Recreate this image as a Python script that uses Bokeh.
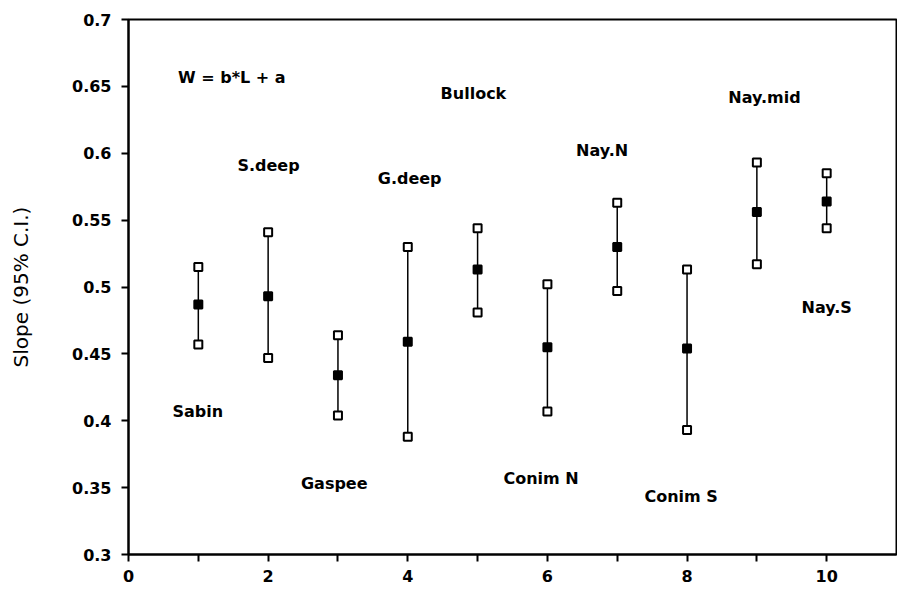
from bokeh.plotting import figure
from bokeh.models import ColumnDataSource, FixedTicker, Range1d
from bokeh.core.properties import value
from bokeh.embed import file_html
from bokeh.resources import INLINE

# ---- data ----
site_index = [1, 2, 3, 4, 5, 6, 7, 8, 9, 10]
slope_upper = [0.515, 0.541, 0.464, 0.530, 0.544, 0.502, 0.563, 0.513, 0.593, 0.585]
slope_mid = [0.487, 0.493, 0.434, 0.459, 0.513, 0.455, 0.530, 0.454, 0.556, 0.564]
slope_lower = [0.457, 0.447, 0.404, 0.388, 0.481, 0.407, 0.497, 0.393, 0.517, 0.544]

label_text = ["W = b*L + a", "S.deep", "G.deep", "Bullock", "Nay.N", "Nay.mid",
              "Nay.S", "Sabin", "Gaspee", "Conim N", "Conim S"]
label_x = [0.71, 1.56, 3.57, 4.47, 6.41, 8.59, 9.64, 0.63, 2.47, 5.37, 7.39]
label_y = [0.657, 0.591, 0.581, 0.645, 0.602, 0.642, 0.485, 0.407, 0.353, 0.357, 0.343]

y_ticks = [0.3, 0.35, 0.4, 0.45, 0.5, 0.55, 0.6, 0.65, 0.7]
x_major_ticks = [0, 2, 4, 6, 8, 10]
x_minor_ticks = [1, 3, 5, 7, 9]

FONT = "DejaVu Sans"

p = figure(width=897, height=590, output_backend="svg", toolbar_location=None,
           x_range=Range1d(0, 11), y_range=Range1d(0.3, 0.7),
           min_border_left=128, min_border_right=1, min_border_top=19,
           min_border_bottom=36)

p.grid.visible = False
p.background_fill_color = "white"
p.border_fill_color = "white"
p.outline_line_color = "black"
p.outline_line_width = 2

src = ColumnDataSource(dict(x=site_index, hi=slope_upper, mid=slope_mid, lo=slope_lower))

p.segment(x0="x", y0="lo", x1="x", y1="hi", source=src, line_color="black", line_width=1.5)
p.scatter(x="x", y="hi", source=src, marker="square", size=8, fill_color="white",
          line_color="black", line_width=2)
p.scatter(x="x", y="lo", source=src, marker="square", size=8, fill_color="white",
          line_color="black", line_width=2)
p.scatter(x="x", y="mid", source=src, marker="square", size=8, fill_color="black",
          line_color="black", line_width=2)

lsrc = ColumnDataSource(dict(x=label_x, y=label_y, t=label_text))
p.text(x="x", y="y", text="t", source=lsrc, text_font=value(FONT),
       text_font_size="16px", text_font_style="bold", text_color="black",
       text_align="left", text_baseline="middle")

# axes
p.xaxis.ticker = FixedTicker(ticks=x_major_ticks, minor_ticks=x_minor_ticks)
p.yaxis.ticker = FixedTicker(ticks=y_ticks, minor_ticks=[])
p.yaxis.major_label_overrides = {t: ("%g" % t) for t in y_ticks}

for ax in (p.xaxis[0], p.yaxis[0]):
    ax.axis_line_color = "black"
    ax.axis_line_width = 2
    ax.major_tick_line_color = "black"
    ax.major_tick_line_width = 2
    ax.major_tick_out = 7
    ax.major_tick_in = 0
    ax.minor_tick_line_color = "black"
    ax.minor_tick_line_width = 2
    ax.minor_tick_out = 7
    ax.minor_tick_in = 0
    ax.major_label_text_font = FONT
    ax.major_label_text_font_size = "16px"
    ax.major_label_text_font_style = "bold"
    ax.major_label_text_color = "black"

p.yaxis.major_label_standoff = 10
p.xaxis.major_label_standoff = 8
p.yaxis.axis_label = "Slope (95% C.I.)"
p.yaxis.axis_label_text_font = FONT
p.yaxis.axis_label_text_font_size = "20px"
p.yaxis.axis_label_text_font_style = "normal"
p.yaxis.axis_label_text_color = "black"
p.yaxis.axis_label_standoff = 36

open("out.html", "w").write(file_html(p, INLINE))
